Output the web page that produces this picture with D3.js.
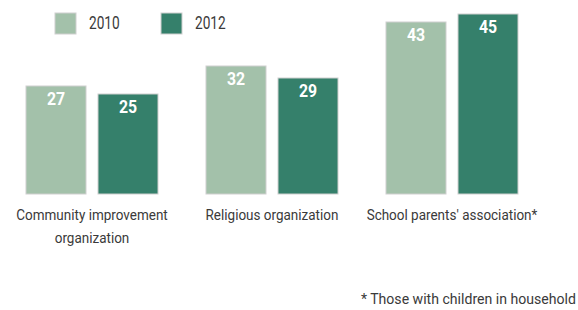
<!DOCTYPE html>
<html lang="en">
<head>
<meta charset="UTF-8">
<title>Participation</title>
<script src="https://cdn.jsdelivr.net/npm/d3@7"></script>
<style>
  body { margin: 0; background: #fff; }
  text { font-family: Roboto, "Liberation Sans", sans-serif; }
</style>
</head>
<body>
<svg id="main" width="578" height="310"></svg>
<script>
const categories = ["Community improvement organization", "Religious organization", "School parents' association*"];
const years = ["2010", "2012"];
const values2010 = [27, 32, 43];
const values2012 = [25, 29, 45];
const footnote = "* Those with children in household";

const colors = { "2010": "#a3c1aa", "2012": "#35806b" };

// label line breaks, as on the reference
const labelLines = {
  "Community improvement organization": ["Community improvement", "organization"],
  "Religious organization": ["Religious organization"],
  "School parents' association*": ["School parents' association*"]
};

const data = categories.map((c, i) => ({
  cat: c,
  vals: [{ year: "2010", v: values2010[i] }, { year: "2012", v: values2012[i] }]
}));

const svg = d3.select("svg#main");
const baseY = 194;

// no condensed face installed, so squeeze text horizontally
function ctext(parent, x, y, k) {
  return parent.append("text")
    .attr("transform", `translate(${x},${y}) scale(${k},1)`);
}

const x0 = d3.scaleBand().domain(categories).range([26, 518]).paddingInner(48 / 180).paddingOuter(0);
const x1 = d3.scaleBand().domain(years).range([0, x0.bandwidth()]).paddingInner(12 / 72);
const y = d3.scaleLinear().domain([0, 45]).range([baseY, 14]);

const groups = svg.selectAll("g.grp")
  .data(data)
  .enter().append("g")
  .attr("class", "grp")
  .attr("transform", d => `translate(${x0(d.cat)},0)`);

groups.selectAll("rect")
  .data(d => d.vals)
  .enter().append("rect")
  .attr("x", d => x1(d.year))
  .attr("y", d => y(d.v))
  .attr("width", x1.bandwidth())
  .attr("height", d => baseY - y(d.v))
  .attr("fill", d => colors[d.year])
  .attr("stroke", "#cfcfcf")
  .attr("stroke-width", 1);

groups.each(function(d) {
  const g = d3.select(this);
  d.vals.forEach(b => {
    ctext(g, x1(b.year) + x1.bandwidth() / 2, y(b.v) + 19, 0.88)
      .attr("text-anchor", "middle")
      .attr("fill", "#fff")
      .attr("font-weight", "bold")
      .attr("font-size", 18)
      .text(b.v);
  });
  // category labels
  labelLines[d.cat].forEach((line, k) => {
    ctext(g, x0.bandwidth() / 2, 220 + k * 23, 0.9)
      .attr("text-anchor", "middle")
      .attr("fill", "#3a3a3a")
      .attr("font-size", 15)
      .text(line);
  });
});

// legend
const legend = svg.append("g");
const lx = d3.scaleOrdinal().domain(years).range([55, 161]);
years.forEach(yr => {
  legend.append("rect")
    .attr("x", lx(yr)).attr("y", 13)
    .attr("width", 21).attr("height", 21)
    .attr("fill", colors[yr])
    .attr("stroke", "#cfcfcf");
  ctext(legend, lx(yr) + 34, 29, 0.72)
    .attr("fill", "#3a3a3a")
    .attr("font-size", 19)
    .text(yr);
});

ctext(svg, 576, 304, 0.94)
  .attr("text-anchor", "end")
  .attr("fill", "#3a3a3a")
  .attr("font-size", 15)
  .text(footnote);
</script>
</body>
</html>
